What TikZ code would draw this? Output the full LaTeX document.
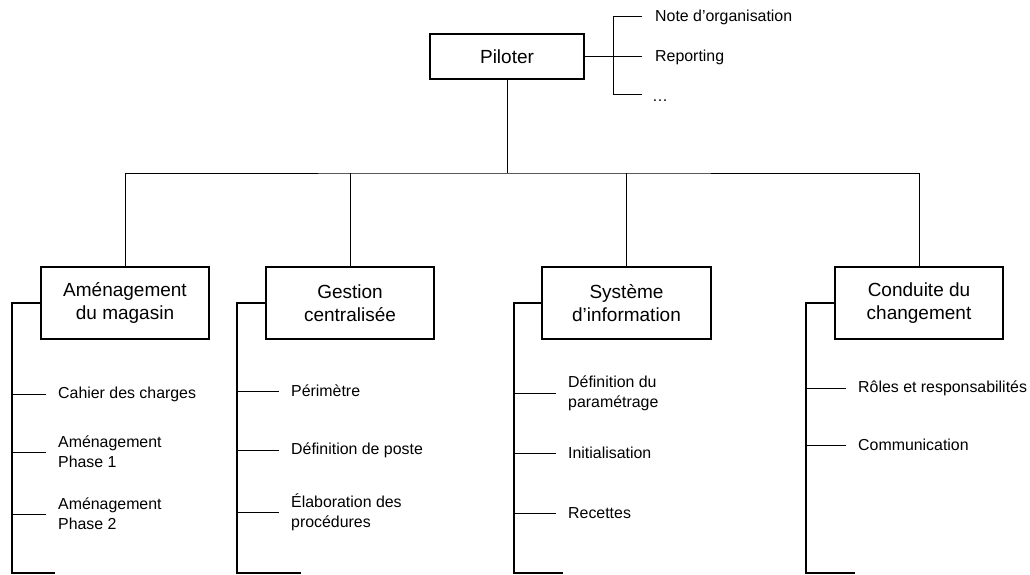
\documentclass[tikz,border=0pt]{standalone}
\usepackage{fontspec}
\setmainfont{Liberation Sans}
\begin{document}
\begin{tikzpicture}[x=1pt,y=-1pt,
  box/.style={draw,line width=1.1pt,minimum width=168pt,minimum height=72pt,
    align=center,inner sep=0pt,font=\fontsize{19}{23}\selectfont},
  item/.style={anchor=west,align=left,inner sep=0pt,
    font=\fontsize{15.9}{20}\selectfont},
  link/.style={line width=1pt},
  spine/.style={line width=1.7pt},
  tick/.style={line width=1pt}]
\useasboundingbox (0,0) rectangle (1030,575);

% top box and its side notes
\node[box,minimum width=154pt,minimum height=45pt] (pil) at (507,56.5) {Piloter};
\node[item] (n1) at (655,17) {Note d’organisation};
\node[item] (n2) at (655,57.5) {Reporting};
\node[item] (n3) at (652,101) {…};
\coordinate (pe) at (613,95);
\draw[spine] (pil.east) -- (pil.east -| pe);
\draw[link] (pil.east -| pe) -- ([xshift=-13pt]pil.east -| n2.west);
\draw[link] ([xshift=-13pt]n1.west) -| (pe) -- ++(29,0);

% second level boxes
\node[box] (b1) at (125,303) {Aménagement\\du magasin};
\node[box] (b2) at (350,303) {Gestion\\centralisée};
\node[box,minimum width=169pt] (b3) at (626.5,303) {Système\\d’information};
\node[box] (b4) at (919,303) {Conduite du\\changement};

% bus from the top box to the four boxes
\coordinate (bus) at (507,173);
\draw[link] (pil.south) -- (bus);
\draw[link] (b1.north) |- (bus) -| (b4.north);
\draw[link] (b2.north) -- (b2.north |- bus);
\draw[link] (b3.north) -- (b3.north |- bus);

% task lists
\node[item] (t11) at (58,394) {Cahier des charges};
\node[item] (t12) at (58,452) {Aménagement\\Phase 1};
\node[item] (t13) at (58,514) {Aménagement\\Phase 2};

\node[item] (t21) at (291,391) {Périmètre};
\node[item] (t22) at (291,450) {Définition de poste};
\node[item] (t23) at (291,512) {Élaboration des\\procédures};

\node[item] (t31) at (568,393) {Définition du\\paramétrage};
\node[item] (t32) at (568,453) {Initialisation};
\node[item] (t33) at (568,513) {Recettes};

\node[item] (t41) at (858,388) {Rôles et responsabilités};
\node[item] (t42) at (858,445) {Communication};

% brackets on the left of each box
\coordinate (e1) at (12,573);
\coordinate (e2) at (237,573);
\coordinate (e3) at (514,573);
\coordinate (e4) at (806,573);
\draw[spine] (b1.west) -| (e1) -- ++(43,0);
\draw[spine] (b2.west) -| (e2) -- ++(64,0);
\draw[spine] (b3.west) -| (e3) -- ++(49,0);
\draw[spine] (b4.west) -| (e4) -- ++(49,0);

\foreach \t/\e in {t11/e1,t12/e1,t13/e1,t21/e2,t22/e2,t23/e2,
                   t31/e3,t32/e3,t33/e3,t41/e4,t42/e4}
  \draw[tick] (\t.west -| \e) -- ([xshift=-12.5pt]\t.west);
\end{tikzpicture}
\end{document}
